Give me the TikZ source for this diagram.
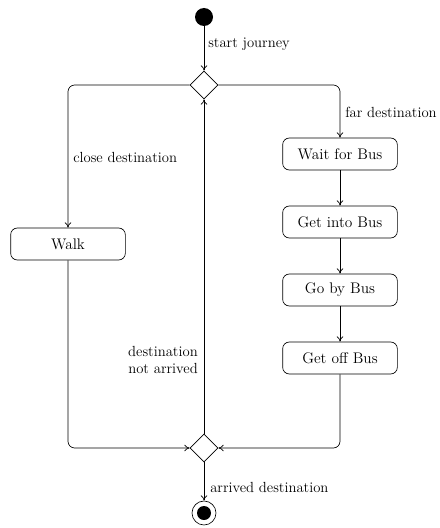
\documentclass[tikz,border=0pt]{standalone}
\usetikzlibrary{shapes.geometric,arrows.meta}
\begin{document}
\begin{tikzpicture}[x=0.75pt,y=-0.75pt,
  act/.style={draw,rounded corners=5pt,minimum width=86pt,minimum height=24pt,font=\fontsize{11.5}{13}\selectfont,line width=0.5pt},
  dec/.style={draw,diamond,minimum width=21pt,minimum height=21pt,inner sep=0pt,line width=0.5pt},
  lbl/.style={font=\fontsize{11}{13}\selectfont,inner sep=0pt},
  flow/.style={-{To[length=4pt,width=5pt]},line width=0.5pt,rounded corners=5pt}]
\useasboundingbox (0,0) rectangle (439,528);
\node[circle,fill=black,minimum size=13.5pt,inner sep=0pt] (start) at (204,17) {};
\node[dec] (d1) at (204,85) {};
\node[act] (walk) at (68,244) {Walk};
\node[act] (wait) at (340,154) {Wait for Bus};
\node[act] (into) at (340,222) {Get into Bus};
\node[act] (go) at (340,290) {Go by Bus};
\node[act] (off) at (340,358) {Get off Bus};
\node[dec] (d2) at (204,448) {};
\node[circle,draw,line width=0.5pt,minimum size=18pt,inner sep=0pt] (end) at (204,513) {};
\node[circle,fill=black,minimum size=10.5pt,inner sep=0pt] (endin) at (end) {};
\draw[flow] (start) -- (d1);
\draw[flow] (d1.west) -| (walk.north);
\draw[flow] (d1.east) -| (wait.north);
\draw[flow] (wait) -- (into);
\draw[flow] (into) -- (go);
\draw[flow] (go) -- (off);
\draw[flow] (walk.south) |- (d2.west);
\draw[flow] (off.south) |- (d2.east);
\draw[flow] (d2.north) -- (d1.south);
\draw[flow] (d2.south) -- (end);
\node[lbl,anchor=west] (l1) at (208,44) {start journey};
\node[lbl,anchor=west] (l2) at (73,157) {close destination};
\node[lbl,anchor=west] (l3) at (345,112) {far destination};
\node[lbl,anchor=east,align=right] (l4) at (198,360) {destination\\not arrived};
\node[lbl,anchor=west] (l5) at (210,487) {arrived destination};
\end{tikzpicture}
\end{document}
